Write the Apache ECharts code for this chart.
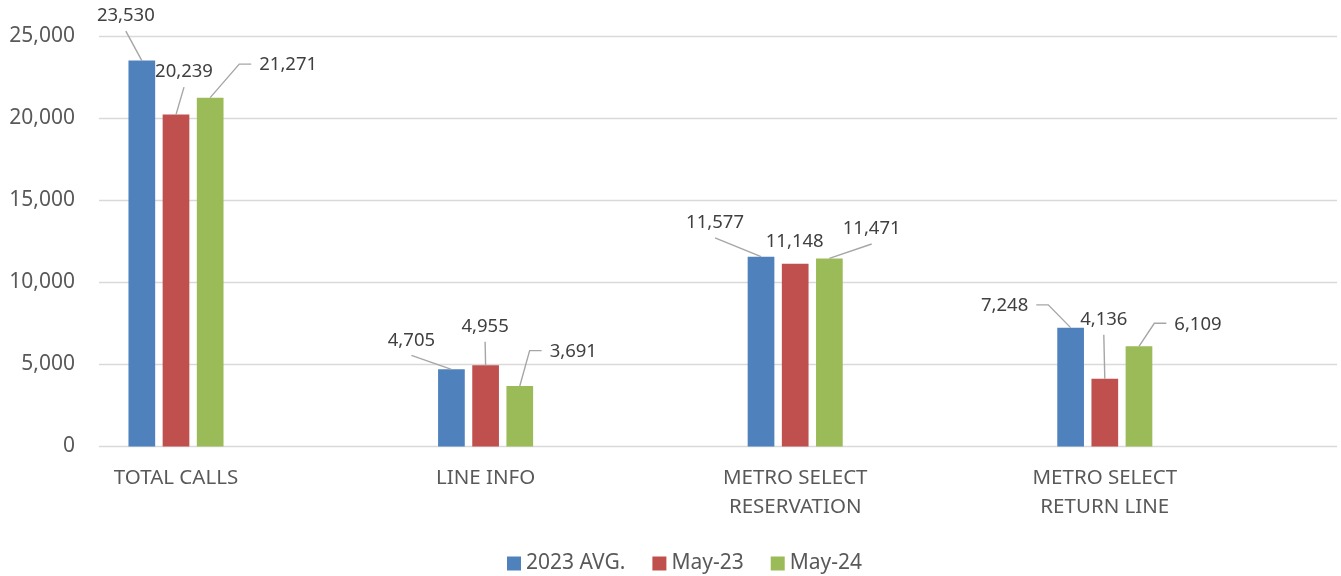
<!DOCTYPE html>
<html>
<head>
<meta charset="utf-8">
<script src="https://cdn.jsdelivr.net/npm/echarts@6/dist/echarts.min.js"></script>
<style>
html, body { margin: 0; padding: 0; background: #fff; }
#chart { width: 1341px; height: 576px; }
</style>
</head>
<body>
<div id="chart"></div>
<script type="text/javascript">
// data
var categories = ['TOTAL CALLS', 'LINE INFO', 'METRO SELECT\nRESERVATION', 'METRO SELECT\nRETURN LINE'];
var seriesNames = ['2023 AVG.', 'May-23', 'May-24'];
var avg2023 = [23530, 4705, 11577, 7248];
var may23 = [20239, 4955, 11148, 4136];
var may24 = [21271, 3691, 11471, 6109];
var yMin = 0, yMax = 25000, yStep = 5000;

var colors = ['#4F81BD', '#C0504D', '#9BBB59'];
var FONT = '"Noto Sans", "Open Sans", sans-serif';
var BAR_W = 26.7, BAR_GAP = 0.28;

// callout label placement: [dx, dy from bar top centre, leader type]
// b = line from below label, l / r = stub on left / right, n = none
var callouts = [
	[[-16, -44.5, 'b'], [-40, -29, 'b'], [-46, -33.7, 'b'], [-66, -21.8, 'r']],
	[[8, -42.5, 'b'], [-0.5, -38.5, 'b'], [-0.5, -21.7, 'n'], [-1, -59, 'b']],
	[[78, -32.5, 'l'], [53.5, -34.3, 'l'], [42.3, -29.4, 'b'], [59, -22, 'l']]
];

var ctx = document.createElement('canvas').getContext('2d');
var labelFont = '18.5px ' + FONT;
ctx.font = labelFont;

function fmt(v) { return echarts.format.addCommas(v); }

function calloutSeries(k, values) {
	return {
		type: 'custom',
		xAxisIndex: 1,
		yAxisIndex: 1,
		silent: true,
		clip: false,
		z: 5,
		data: values.map(function (v, i) { return [i, v]; }),
		renderItem: function (params, api) {
			var v = api.value(1);
			var p = api.coord([api.value(0), v]);
			var bx = p[0] + (k - 1) * BAR_W * (1 + BAR_GAP);
			var by = p[1];
			var c = callouts[k][params.dataIndex];
			var cx = bx + c[0], cy = by + c[1];
			var txt = fmt(v);
			var w = ctx.measureText(txt).width;
			var pts = null, sx;
			if (c[2] == 'b') {
				pts = [[cx, cy + 15], [bx, by]];
			} else if (c[2] == 'l') {
				sx = cx - w / 2 - 8;
				pts = [[sx, cy - 1], [sx - 12, cy - 1], [bx, by]];
			} else if (c[2] == 'r') {
				sx = cx + w / 2 + 8;
				pts = [[sx, cy - 1], [sx + 12, cy - 1], [bx, by]];
			}
			var children = [];
			if (pts) {
				children.push({
					type: 'polyline',
					shape: { points: pts },
					style: { stroke: '#a6a6a6', lineWidth: 1.4, fill: null }
				});
			}
			children.push({
				type: 'text',
				style: {
					text: txt, x: cx, y: cy, align: 'center', verticalAlign: 'middle',
					font: labelFont, fill: '#404040'
				}
			});
			return { type: 'group', children: children };
		}
	};
}

function barSeries(k, values) {
	return {
		name: seriesNames[k],
		type: 'bar',
		xAxisIndex: 1,
		yAxisIndex: 1,
		barWidth: BAR_W,
		barGap: (BAR_GAP * 100) + '%',
		data: values,
		itemStyle: { color: colors[k] }
	};
}

var myChart = echarts.init(document.getElementById('chart'));
var option = {
	animation: false,
	color: colors,
	grid: [
		{ left: 99, right: 4, top: 36.5, bottom: 129.5 },
		{ left: 21.2, right: 81.4, top: 36.5, bottom: 129.5 }
	],
	legend: {
		data: seriesNames,
		left: 502,
		top: 548,
		icon: 'rect',
		itemWidth: 14,
		itemHeight: 14,
		itemGap: 27,
		textStyle: { fontFamily: FONT, fontSize: 21, color: '#595959' }
	},
	xAxis: [
		{ type: 'category', gridIndex: 0, data: categories, show: false },
		{
			type: 'category', gridIndex: 1, data: categories,
			axisLine: { show: false }, axisTick: { show: false },
			axisLabel: {
				margin: 17, fontFamily: FONT, fontSize: 20.5, lineHeight: 29,
				color: '#595959', interval: 0
			}
		}
	],
	yAxis: [
		{
			type: 'value', gridIndex: 0, min: yMin, max: yMax, interval: yStep,
			axisLine: { show: false }, axisTick: { show: false },
			axisLabel: {
				margin: 24, fontFamily: FONT, fontSize: 21, color: '#595959',
				formatter: function (v) { return fmt(v); }
			},
			splitLine: { lineStyle: { color: '#d9d9d9', width: 1.3 } }
		},
		{
			type: 'value', gridIndex: 1, min: yMin, max: yMax, interval: yStep,
			show: false, splitLine: { show: false }
		}
	],
	series: [
		barSeries(0, avg2023),
		barSeries(1, may23),
		barSeries(2, may24),
		calloutSeries(0, avg2023),
		calloutSeries(1, may23),
		calloutSeries(2, may24)
	]
};
myChart.setOption(option);
</script>
</body>
</html>
